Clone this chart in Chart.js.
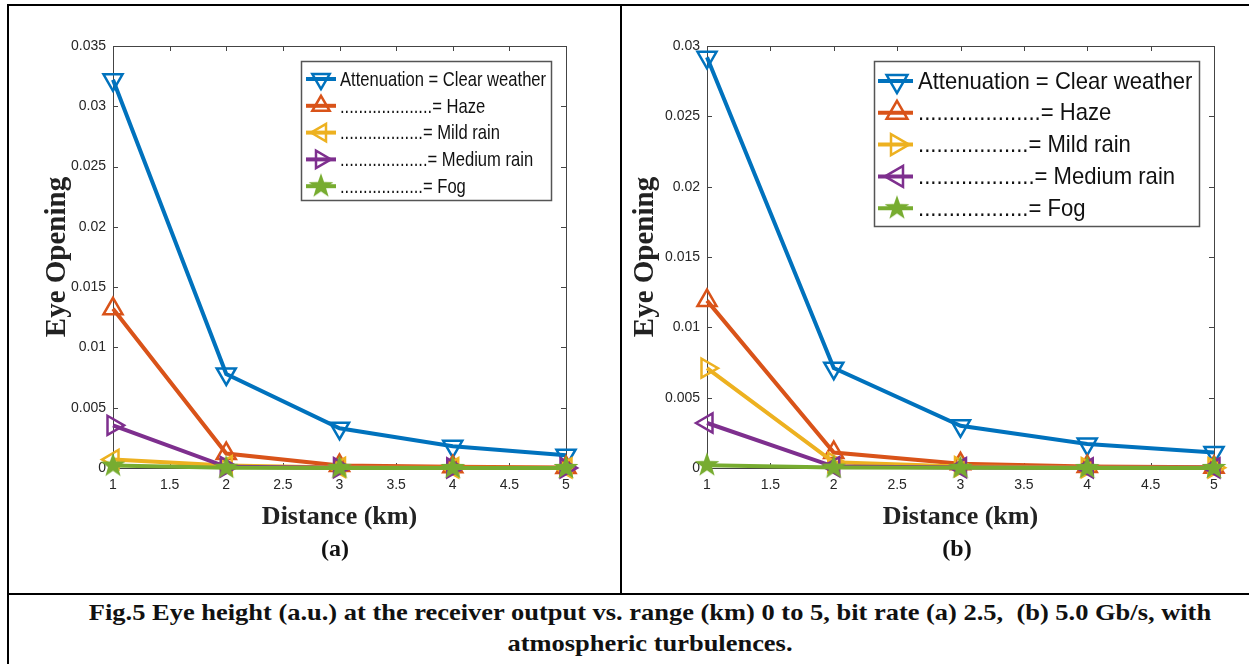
<!DOCTYPE html>
<html>
<head>
<meta charset="utf-8">
<script src="https://cdn.jsdelivr.net/npm/chart.js@4"></script>
<style>
  html, body { margin: 0; padding: 0; background: #fff; }
  body { width: 1249px; height: 664px; position: relative; overflow: hidden; font-family: 'Liberation Serif', 'Times New Roman', serif; }
  canvas { position: absolute; }
  .rule { position: absolute; background: #000; }
  .sub { position: absolute; font-weight: bold; font-size: 24px; transform: translateX(-50%); color: #111; }
  #caption { position: absolute; left: 150px; width: 1000px; top: 597px; text-align: center; font-weight: bold; font-size: 23px; line-height: 31px; color: #111; transform: scaleX(1.15); transform-origin: 500px 0; white-space: nowrap; }
</style>
</head>
<body>
<div class="rule" style="left:7px; top:4px; width:1242px; height:2px"></div>
<div class="rule" style="left:7px; top:4px; width:2px; height:660px"></div>
<div class="rule" style="left:620px; top:4px; width:2px; height:591px"></div>
<div class="rule" style="left:7px; top:593px; width:1242px; height:2px"></div>

<canvas id="chartA" width="600" height="560" style="left:10px; top:10px"></canvas>
<canvas id="chartB" width="615" height="560" style="left:627px; top:10px"></canvas>

<div class="sub" style="left:335px; top:535px">(a)</div>
<div class="sub" style="left:957px; top:535px">(b)</div>

<div id="caption">Fig.5 Eye height (a.u.) at the receiver output vs. range (km) 0 to 5, bit rate (a) 2.5,&nbsp; (b) 5.0 Gb/s, with<br>atmospheric turbulences.</div>

<script>
// distances (km)
const distance = [1, 2, 3, 4, 5];

// (a) 2.5 Gb/s
const clearA  = [0.0322, 0.0078, 0.0033, 0.0018, 0.00106];
const hazeA   = [0.0132, 0.0012, 0.0002, 0.0001, 0.00005];
const mildA   = [0.0007, 0.0002, 0.00005, 0.00002, 0.00001];
const mediumA = [0.00354, 0.0001, 0.00003, 0.00001, 0.00001];
const fogA    = [0.0002, 0.00002, 0.00001, 0, 0];

// (b) 5.0 Gb/s
const clearB  = [0.0292, 0.0071, 0.0030, 0.0017, 0.0011];
const hazeB   = [0.0119, 0.0011, 0.0003, 0.0001, 0.00005];
const mildB   = [0.0071, 0.0004, 0.0001, 0.00003, 0.00002];
const mediumB = [0.0032, 0.0001, 0.00003, 0.00001, 0.00001];
const fogB    = [0.0002, 0.00003, 0.00001, 0, 0];

const labelsLegend = [
  'Attenuation = Clear weather',
  '....................= Haze',
  '..................= Mild rain',
  '...................= Medium rain',
  '..................= Fog'
];

const COLORS = ['#0072BD', '#D95319', '#EDB120', '#7E2F8E', '#77AC30'];

// filled star marker
function makeStar(color) {
  const c = document.createElement('canvas');
  c.width = 28; c.height = 28;
  const g = c.getContext('2d');
  g.beginPath();
  for (let i = 0; i < 10; i++) {
    const r = i % 2 ? 5.2 : 13;
    const a = -Math.PI / 2 + i * Math.PI / 5;
    g.lineTo(14 + r * Math.cos(a), 14 + r * Math.sin(a));
  }
  g.closePath();
  g.fillStyle = color;
  g.fill();
  return c;
}
const star = makeStar(COLORS[4]);

function series(label, data, color, style, rot, order) {
  return {
    label, order,
    data: distance.map((d, i) => ({ x: d, y: data[i] })),
    borderColor: color, borderWidth: 4,
    pointStyle: style, pointRotation: rot, pointRadius: 11, pointHoverRadius: 11,
    pointBorderColor: color, pointBackgroundColor: 'rgba(0,0,0,0)', pointBorderWidth: 2.5,
    fill: false, tension: 0, clip: false
  };
}

// box around plot + inward ticks on all four sides
const frame = {
  id: 'frame',
  beforeDatasetsDraw(chart) {
    const { ctx, chartArea: a, scales } = chart;
    ctx.save();
    ctx.strokeStyle = '#444';
    ctx.lineWidth = 1;
    ctx.strokeRect(Math.round(a.left) + 0.5, Math.round(a.top) + 0.5, Math.round(a.right - a.left), Math.round(a.bottom - a.top));
    ctx.beginPath();
    scales.x.ticks.forEach(t => {
      const px = Math.round(scales.x.getPixelForValue(t.value)) + 0.5;
      ctx.moveTo(px, a.bottom); ctx.lineTo(px, a.bottom - 5);
      ctx.moveTo(px, a.top); ctx.lineTo(px, a.top + 5);
    });
    scales.y.ticks.forEach(t => {
      const py = Math.round(scales.y.getPixelForValue(t.value)) + 0.5;
      ctx.moveTo(a.left, py); ctx.lineTo(a.left + 5, py);
      ctx.moveTo(a.right, py); ctx.lineTo(a.right - 5, py);
    });
    ctx.stroke();
    ctx.restore();
  }
};

// legend box inside the plot, top right
const boxLegend = {
  id: 'boxLegend',
  afterDatasetsDraw(chart, args, o) {
    const { ctx, chartArea: a } = chart;
    const x0 = Math.round(a.right - o.right - o.width), y0 = Math.round(a.top + o.top);
    ctx.save();
    ctx.fillStyle = '#fff';
    ctx.fillRect(x0, y0, o.width, o.height);
    ctx.strokeStyle = '#555';
    ctx.lineWidth = 1.5;
    ctx.strokeRect(x0 + 0.5, y0 + 0.5, o.width, o.height);
    const sets = chart.data.datasets;
    sets.forEach((ds, i) => {
      const y = y0 + o.first + i * o.step;
      ctx.strokeStyle = ds.borderColor;
      ctx.lineWidth = ds.borderWidth;
      ctx.beginPath();
      ctx.moveTo(x0 + o.lineFrom, y); ctx.lineTo(x0 + o.lineTo, y);
      ctx.stroke();
      ctx.fillStyle = ds.pointBackgroundColor;
      ctx.strokeStyle = ds.pointBorderColor;
      ctx.lineWidth = ds.pointBorderWidth;
      Chart.helpers.drawPoint(ctx, {
        pointStyle: ds.pointStyle, rotation: ds.pointRotation,
        radius: o.markerRadius, borderWidth: ds.pointBorderWidth
      }, x0 + o.marker, y);
      ctx.fillStyle = '#111';
      ctx.font = o.font;
      ctx.textBaseline = 'middle';
      ctx.save();
      ctx.translate(x0 + o.text, y + 1);
      ctx.scale(o.squeeze, 1);
      ctx.fillText(ds.label, 0, 0);
      ctx.restore();
    });
    ctx.restore();
  }
};

const tickFont = { family: "'Liberation Sans', Arial, sans-serif", size: 14 };
const xTitleFont = { family: "'Liberation Serif', 'Times New Roman', serif", size: 26, weight: 'bold' };
const yTitleFont = { family: "'Liberation Serif', 'Times New Roman', serif", size: 29, weight: 'bold' };
const fmt = v => String(Number(v.toFixed(4)));

function makeChart(id, sets, yMax, yWidth, padRight, yTitlePad, legendOpts) {
  return new Chart(document.getElementById(id), {
    type: 'line',
    data: { datasets: sets },
    plugins: [frame, boxLegend],
    options: {
      responsive: false, animation: false, devicePixelRatio: 1,
      layout: { padding: { left: 0, right: padRight, top: 36, bottom: 0 } },
      plugins: { legend: { display: false }, tooltip: { enabled: false }, boxLegend: legendOpts },
      scales: {
        x: {
          type: 'linear', min: 1, max: 5,
          ticks: { stepSize: 0.5, callback: fmt, font: tickFont, color: '#262626', padding: 9, maxRotation: 0 },
          grid: { display: false, drawTicks: false },
          border: { display: false },
          title: { display: true, text: 'Distance (km)', font: xTitleFont, color: '#222', padding: { top: 0, bottom: 37 } },
          afterFit: s => { s.height = 102; }
        },
        y: {
          min: 0, max: yMax,
          ticks: { stepSize: 0.005, callback: fmt, font: tickFont, color: '#262626', padding: 7 },
          grid: { display: false, drawTicks: false },
          border: { display: false },
          title: { display: true, text: 'Eye Opening', font: yTitleFont, color: '#222', padding: { top: yTitlePad, bottom: 0 } },
          afterFit: s => { s.width = yWidth; }
        }
      }
    }
  });
}

makeChart('chartA', [
  series(labelsLegend[0], clearA, COLORS[0], 'triangle', 180, 5),
  series(labelsLegend[1], hazeA, COLORS[1], 'triangle', 0, 4),
  series(labelsLegend[2], mildA, COLORS[2], 'triangle', -90, 3),
  series(labelsLegend[3], mediumA, COLORS[3], 'triangle', 90, 2),
  Object.assign(series(labelsLegend[4], fogA, COLORS[4], star, 0, 1), { pointBackgroundColor: COLORS[4] })
], 0.035, 103, 44, 30, {
  width: 250, height: 139, right: 15, top: 15, first: 18, step: 26.8,
  lineFrom: 5, lineTo: 35, marker: 20, markerRadius: 10, text: 39, font: '21px "Liberation Sans", Arial, sans-serif', squeeze: 0.79
});

makeChart('chartB', [
  series(labelsLegend[0], clearB, COLORS[0], 'triangle', 180, 5),
  series(labelsLegend[1], hazeB, COLORS[1], 'triangle', 0, 4),
  series(labelsLegend[2], mildB, COLORS[2], 'triangle', 90, 3),
  series(labelsLegend[3], mediumB, COLORS[3], 'triangle', -90, 2),
  Object.assign(series(labelsLegend[4], fogB, COLORS[4], star, 0, 1), { pointBackgroundColor: COLORS[4] })
], 0.03, 80, 28, 1, {
  width: 325, height: 165, right: 15, top: 15, first: 20, step: 31.8,
  lineFrom: 4, lineTo: 39, marker: 23, markerRadius: 12, text: 44, font: '24px "Liberation Sans", Arial, sans-serif', squeeze: 0.92
});
</script>
</body>
</html>
